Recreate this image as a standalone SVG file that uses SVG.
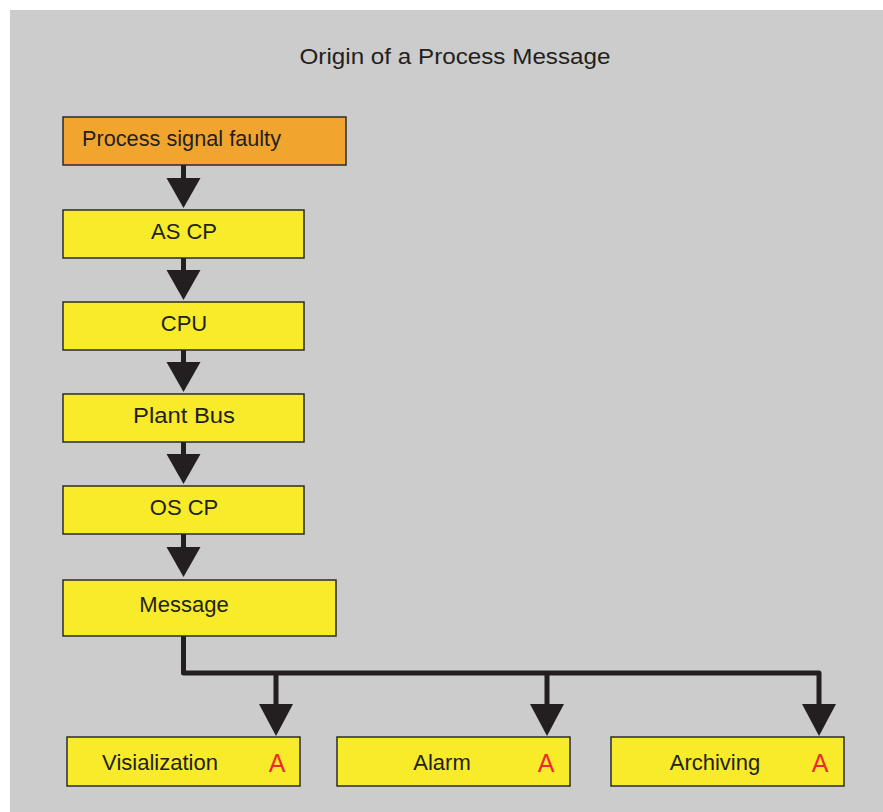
<svg xmlns="http://www.w3.org/2000/svg" width="883" height="812" viewBox="0 0 883 812">
<defs>
<style>
.box{fill:#F7EB2A;stroke:#2b2b2b;stroke-width:1.5}
.orange{fill:#F2A52E}
.t{font-family:"Liberation Sans",Arial,sans-serif;font-size:22px;fill:#231F20;text-anchor:middle}
.a{font-family:"Liberation Sans",Arial,sans-serif;font-size:25px;fill:#EE2A2A;text-anchor:middle}
.title{font-family:"Liberation Sans",Arial,sans-serif;font-size:22px;fill:#231F20;text-anchor:middle}
.c{fill:none;stroke:#231F20;stroke-width:5;stroke-linejoin:round}
.h{fill:#231F20}
</style>
</defs>
<rect x="0" y="0" width="883" height="812" fill="#ffffff"/>
<rect x="10" y="10" width="873" height="802" fill="#CCCCCC"/>
<text class="title" x="455" y="64" textLength="311" lengthAdjust="spacingAndGlyphs">Origin of a Process Message</text>

<g id="connectors">
<path class="c" d="M183.5 165 V200"/>
<path class="c" d="M183.5 258 V292"/>
<path class="c" d="M183.5 350 V384"/>
<path class="c" d="M183.5 442 V476"/>
<path class="c" d="M183.5 534 V569"/>
<path class="c" d="M183.5 636 V673 H819 V728"/>
<path class="c" d="M276 673 V728"/>
<path class="c" d="M547 673 V728"/>
<path class="h" d="M166.5 178 L200.5 178 L183.5 208 Z"/>
<path class="h" d="M166.5 270 L200.5 270 L183.5 300 Z"/>
<path class="h" d="M166.5 362 L200.5 362 L183.5 392 Z"/>
<path class="h" d="M166.5 454 L200.5 454 L183.5 484 Z"/>
<path class="h" d="M166.5 547 L200.5 547 L183.5 577 Z"/>
<path class="h" d="M259 704 L293 704 L276 736 Z"/>
<path class="h" d="M530 704 L564 704 L547 736 Z"/>
<path class="h" d="M802 704 L836 704 L819 736 Z"/>
</g>

<g id="n1"><rect class="box orange" x="63" y="117" width="283" height="48"/><text class="t" x="82" y="146" style="text-anchor:start" textLength="199" lengthAdjust="spacingAndGlyphs">Process signal faulty</text></g>
<g id="n2"><rect class="box" x="63" y="210" width="241" height="48"/><text class="t" x="184" y="239">AS CP</text></g>
<g id="n3"><rect class="box" x="63" y="302" width="241" height="48"/><text class="t" x="184" y="331">CPU</text></g>
<g id="n4"><rect class="box" x="63" y="394" width="241" height="48"/><text class="t" x="184" y="423" textLength="102" lengthAdjust="spacingAndGlyphs">Plant Bus</text></g>
<g id="n5"><rect class="box" x="63" y="486" width="241" height="48"/><text class="t" x="184" y="515">OS CP</text></g>
<g id="n6"><rect class="box" x="63" y="580" width="273" height="56"/><text class="t" x="184" y="612">Message</text></g>
<g id="n7"><rect class="box" x="67" y="737" width="233" height="49"/><text class="t" x="160" y="770">Visialization</text><text class="a" x="277" y="772">A</text></g>
<g id="n8"><rect class="box" x="337" y="737" width="233" height="49"/><text class="t" x="442" y="770">Alarm</text><text class="a" x="546" y="772">A</text></g>
<g id="n9"><rect class="box" x="611" y="737" width="233" height="49"/><text class="t" x="715" y="770">Archiving</text><text class="a" x="820" y="772">A</text></g>
</svg>
